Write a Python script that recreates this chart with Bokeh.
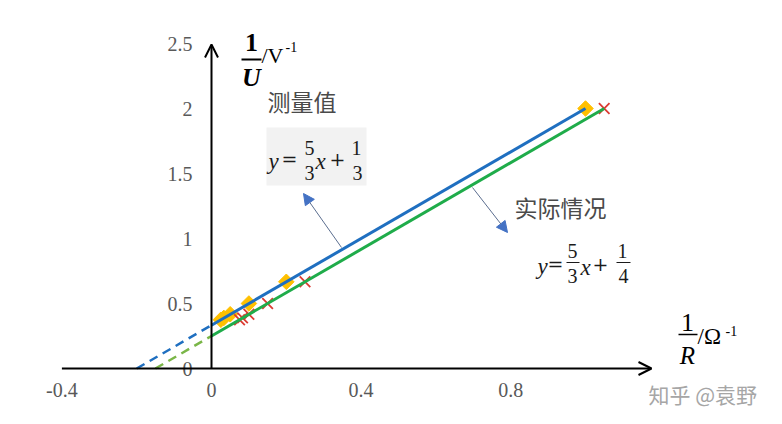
from bokeh.plotting import figure
from bokeh.models import (Range1d, LinearAxis, FixedTicker, Arrow, OpenHead,
                          NormalHead, Label, BoxAnnotation)
from bokeh.embed import file_html
from bokeh.resources import INLINE

# ---------------- data ----------------
x_ticks = [-0.4, 0, 0.4, 0.8]
x_tick_labels = ["-0.4", "0", "0.4", "0.8"]
y_ticks = [0, 0.5, 1, 1.5, 2, 2.5]
y_tick_labels = ["0", "0.5", "1", "1.5", "2", "2.5"]

measured_x = [0.025, 0.033, 0.05, 0.1, 0.2, 1.0]     # 1/R measured
measured_y = [0.375, 0.389, 0.417, 0.5, 0.667, 2.0]  # 1/U
actual_x = [0.075, 0.083, 0.1, 0.15, 0.25, 1.05]     # 1/R actual
actual_y = [0.375, 0.389, 0.417, 0.5, 0.667, 2.0]

fit_meas_x = [0.0, 1.0]
fit_meas_y = [0.333, 2.0]
fit_act_x = [0.0, 1.05]
fit_act_y = [0.25, 2.0]
ext_meas_x = [-0.2, 0.0]
ext_meas_y = [0.0, 0.333]
ext_act_x = [-0.15, 0.0]
ext_act_y = [0.0, 0.25]

# ---------------- layout helpers (page pixel -> data) ----------------
OX, OY, SX, SY = 211.0, 368.0, 374.0, 130.0
W, H = 766, 408
PAGE_OFF = 0


def dx(px):
    return (px - OX) / SX


def dy(py):
    return (OY - py) / SY


p = figure(width=W, height=H,
           x_range=Range1d(dx(PAGE_OFF), dx(PAGE_OFF + W)),
           y_range=Range1d(dy(PAGE_OFF + H), dy(PAGE_OFF)),
           output_backend="svg", toolbar_location=None,
           x_axis_type=None, y_axis_type=None, min_border=0,
           outline_line_color=None, background_fill_color="white",
           border_fill_color="white")

tick_font = "Liberation Serif"
tick_color = "#595959"

xaxis = LinearAxis(fixed_location=0, ticker=FixedTicker(ticks=x_ticks),
                   major_label_overrides={float(t): s for t, s in zip(x_ticks, x_tick_labels)},
                   axis_line_color=None, major_tick_line_color=None,
                   minor_tick_line_color=None, major_tick_out=0, major_tick_in=0,
                   major_label_text_font=tick_font, major_label_text_font_size="20px",
                   major_label_text_color=tick_color, major_label_standoff=14)
p.add_layout(xaxis, "below")

yaxis = LinearAxis(fixed_location=0, ticker=FixedTicker(ticks=y_ticks),
                   major_label_overrides={float(t): s for t, s in zip(y_ticks, y_tick_labels)},
                   axis_line_color=None, major_tick_line_color=None,
                   minor_tick_line_color=None, major_tick_out=0, major_tick_in=0,
                   major_label_text_font=tick_font, major_label_text_font_size="20px",
                   major_label_text_color=tick_color, major_label_standoff=19)
p.add_layout(yaxis, "left")

# axis arrows
p.add_layout(Arrow(end=OpenHead(size=13, line_width=2, line_color="black"),
                   x_start=-0.4, y_start=0, x_end=dx(651), y_end=0,
                   line_width=2, line_color="black"))
p.add_layout(Arrow(end=OpenHead(size=13, line_width=2, line_color="black"),
                   x_start=0, y_start=0, x_end=0, y_end=dy(44),
                   line_width=2, line_color="black"))

# markers (under the lines)
p.scatter(measured_x, measured_y, marker="square", size=11, angle=0.785398,
          fill_color="#ffc000", line_color="#ffc000")
p.scatter(actual_x, actual_y, marker="x", size=15, line_color="#dc3a32",
          line_width=1.8)

# lines
blue = "#1f6fc0"
green = "#1fac4a"
p.line(ext_meas_x, ext_meas_y, line_color=blue, line_width=2.5, line_dash="9 6")
p.line(ext_act_x, ext_act_y, line_color="#7ab648", line_width=2.5, line_dash="9 6")
p.line(fit_meas_x, fit_meas_y, line_color=blue, line_width=3)
p.line(fit_act_x, fit_act_y, line_color=green, line_width=3)


def lab(px, py, text, size, font="Liberation Serif", style="normal",
        align="center", color="#1a1a1a", baseline="middle"):
    p.add_layout(Label(x=dx(px), y=dy(py), text=text, text_font=font,
                       text_font_size=f"{size}px", text_font_style=style,
                       text_align=align, text_baseline=baseline,
                       text_color=color))


def bar(x0, x1, py, w=1.5, color="#1a1a1a"):
    p.segment(x0=[dx(x0)], y0=[dy(py)], x1=[dx(x1)], y1=[dy(py)],
              line_color=color, line_width=w)


# y axis title: 1/U / V^-1
lab(251, 42, "1", 26, style="bold", color="#000000")
bar(241, 261, 59, w=2, color="#000000")
lab(251, 77, "U", 26, style="bold italic", color="#000000")
lab(261, 55, "/V", 22, align="left", color="#000000")
lab(285, 46, "-1", 14, align="left", color="#000000")

# x axis title: 1/R / Ω^-1
lab(687, 322, "1", 26, color="#000000")
bar(678, 697, 334, w=1.5, color="#000000")
lab(687, 355, "R", 25, style="italic", color="#000000")
lab(697, 336, "/Ω", 23, align="left", color="#000000")
lab(725, 330, "-1", 14, align="left", color="#000000")

# Chinese labels
cjk = "Noto Sans CJK SC"
lab(267, 100, "测量值", 23, font=cjk, align="left", color="#4a4a4a")
lab(514, 206, "实际情况", 23, font=cjk, align="left", color="#4a4a4a")

op_font = "DejaVu Serif"

# formula box 1
p.add_layout(BoxAnnotation(left=dx(266), right=dx(366), top=dy(127), bottom=dy(185),
                           fill_color="#f2f2f2", fill_alpha=1.0, line_color=None))
lab(273, 161, "y", 23, style="italic")
lab(289, 158, "=", 19, font=op_font)
lab(309, 147, "5", 20)
bar(303, 316, 160, w=1)
lab(309, 172, "3", 20)
lab(320, 161, "x", 23, style="italic")
lab(337, 158, "+", 19, font=op_font)
lab(356, 147, "1", 20)
bar(350, 363, 160, w=1)
lab(357, 172, "3", 20)

# formula 2
lab(542, 266, "y", 23, style="italic")
lab(555, 263, "=", 19, font=op_font)
lab(572, 250, "5", 20)
bar(566, 579, 262, w=1)
lab(572, 275, "3", 20)
lab(585, 267, "x", 23, style="italic")
lab(600, 263, "+", 19, font=op_font)
lab(622, 250, "1", 20)
bar(616, 630, 262, w=1)
lab(623, 275, "4", 20)

# pointer arrows
p.add_layout(Arrow(end=NormalHead(size=11, fill_color="#4472c4", line_color="#4472c4"),
                   x_start=dx(341), y_start=dy(247), x_end=dx(303), y_end=dy(193),
                   line_color="#5b6e8f", line_width=1))
p.add_layout(Arrow(end=NormalHead(size=11, fill_color="#4472c4", line_color="#4472c4"),
                   x_start=dx(472), y_start=dy(187), x_end=dx(507), y_end=dy(232),
                   line_color="#5b6e8f", line_width=1))

# watermark
lab(648, 393, "知乎 @袁野", 21, font=cjk, align="left", color="#a6a6a6")

open("out.html", "w").write(file_html(p, INLINE))
